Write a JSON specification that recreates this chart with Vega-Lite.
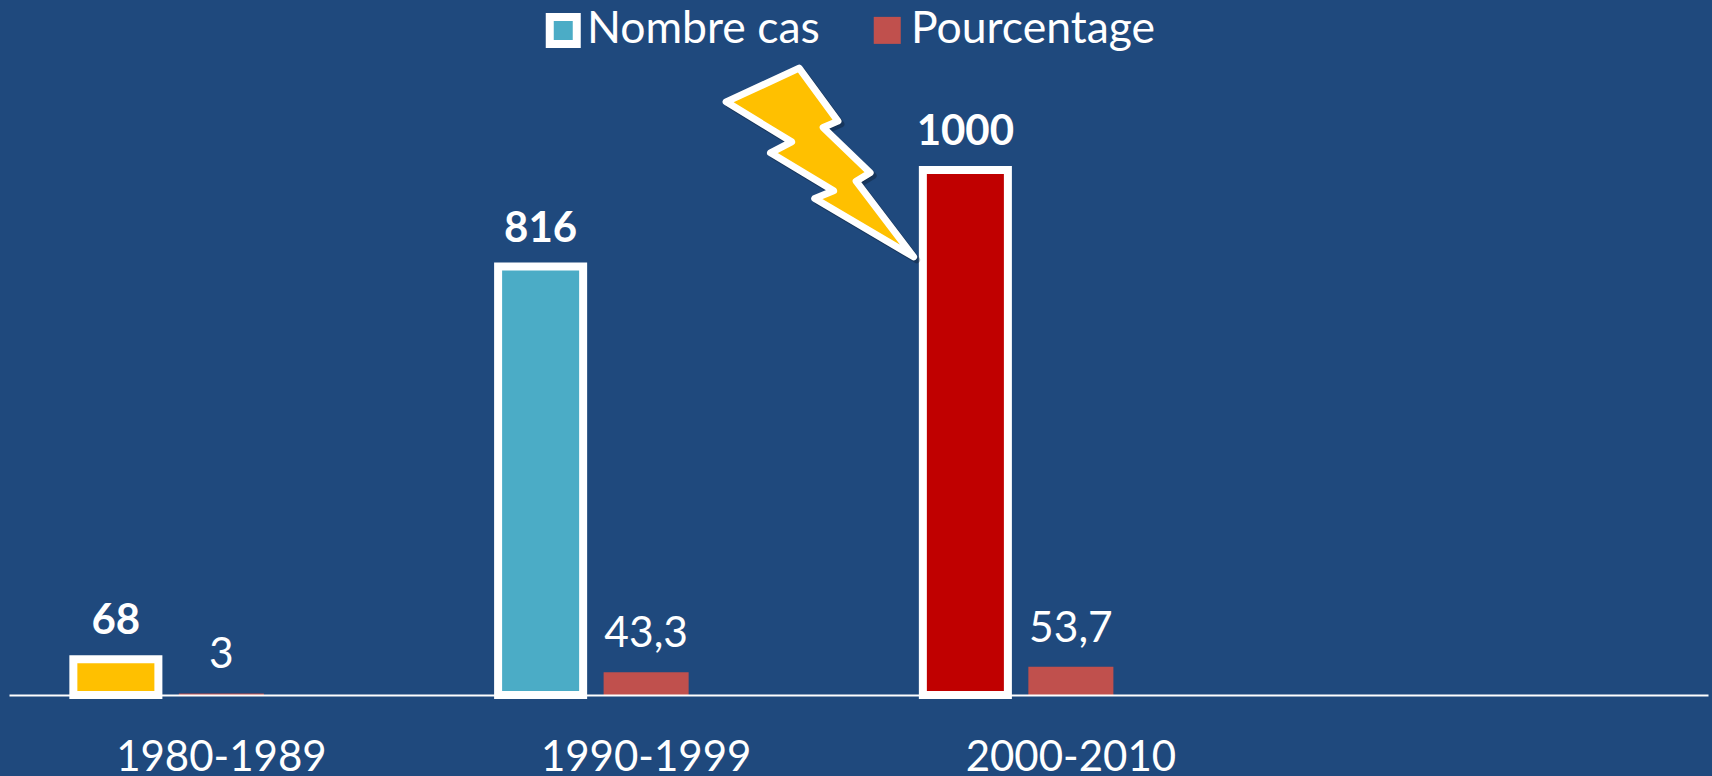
{
"$schema":"https://vega.github.io/schema/vega-lite/v6.json",
"width":1699,"height":695,
"autosize":{"type":"none"},
"padding":{"left":9,"right":4,"top":0,"bottom":81},
"background":"#1f497d",
"config":{"view":{"stroke":null},"font":"Lato"},
"layer":[
{
"data":{"values":[
{"period":"1980-1989","series":"Nombre cas","value":68,"label":"68"},
{"period":"1990-1999","series":"Nombre cas","value":816,"label":"816"},
{"period":"2000-2010","series":"Nombre cas","value":1000,"label":"1000"},
{"period":"1980-1989","series":"Pourcentage","value":3,"label":"3"},
{"period":"1990-1999","series":"Pourcentage","value":43.3,"label":"43,3"},
{"period":"2000-2010","series":"Pourcentage","value":53.7,"label":"53,7"}
]},
"encoding":{
"x":{"field":"period","type":"nominal","scale":{"type":"band","domain":["1980-1989","1990-1999","2000-2010"," "],"paddingInner":0,"paddingOuter":0},
"axis":{"title":null,"ticks":false,"domainColor":"white","domainWidth":2,"labelAngle":0,"labelColor":"white","labelFont":"Lato","labelFontSize":42,"labelBaseline":"alphabetic","labelPadding":75,"labelOverlap":false,"labelLimit":0,"zindex":1}},
"xOffset":{"field":"series","type":"nominal","scale":{"domain":["Nombre cas","Pourcentage","_"],"paddingInner":0.194,"paddingOuter":0.61}},
"y":{"field":"value","type":"quantitative","stack":null,"scale":{"domain":[0,1323.8],"nice":false,"zero":true},"axis":null}
},
"layer":[
{"mark":{"type":"bar","strokeWidth":8,"strokeJoin":"miter","clip":false},
"encoding":{
"color":{"condition":[{"test":"datum.series==='Nombre cas'&&datum.period==='1980-1989'","value":"#ffc000"},{"test":"datum.series==='Nombre cas'&&datum.period==='2000-2010'","value":"#c00000"}],
"field":"series","type":"nominal","scale":{"domain":["Nombre cas","Pourcentage"],"range":["#4bacc6","#c0504d"]},
"legend":{"title":null,"orient":"none","legendX":532,"legendY":8,"direction":"horizontal","symbolType":"square","symbolSize":729,"symbolOpacity":1,"symbolStrokeWidth":8,"labelFont":"Lato","labelFontSize":44.5,"labelColor":"white","labelLimit":0,"labelOffset":1.5,"columnPadding":37,"padding":0}},
"stroke":{"field":"series","type":"nominal","scale":{"domain":["Nombre cas","Pourcentage"],"range":["white","transparent"]},
"legend":{"title":null,"orient":"none","legendX":532,"legendY":8,"direction":"horizontal","symbolType":"square","symbolSize":729,"symbolOpacity":1,"symbolStrokeWidth":8,"labelFont":"Lato","labelFontSize":44.5,"labelColor":"white","labelLimit":0,"labelOffset":1.5,"columnPadding":37,"padding":0}}
}},
{"transform":[{"filter":"datum.series==='Nombre cas'"}],
"mark":{"type":"text","color":"white","font":"Lato","fontSize":42,"fontWeight":"bold","baseline":"alphabetic","align":"center","dy":-25},
"encoding":{"text":{"field":"label","type":"nominal"}}},
{"transform":[{"filter":"datum.series==='Pourcentage'"}],
"mark":{"type":"text","color":"white","font":"Lato","fontSize":42.5,"baseline":"alphabetic","align":"center","dy":-25},
"encoding":{"text":{"field":"label","type":"nominal"}}}
]
},
{"data":{"values":[{"annotation":"éclair"}]},
"mark":{"type":"point","shape":"M-0.21,-0.945L0.178,-0.415L0.03,-0.352L0.5,0.102L0.36,0.185L0.935,0.942L-0.054,0.358L0.135,0.282L-0.496,-0.098L-0.285,-0.208L-0.94,-0.608Z","size":40000,"filled":true,"fill":"#000000","fillOpacity":0.25,"stroke":"#000000","strokeOpacity":0.25,"strokeWidth":7,"strokeJoin":"round","xOffset":177,"yOffset":3},
"encoding":{"x":{"datum":"1990-1999","type":"nominal"},"y":{"datum":1014,"type":"quantitative"}}},
{"data":{"values":[{"annotation":"éclair"}]},
"mark":{"type":"point","shape":"M-0.21,-0.945L0.178,-0.415L0.03,-0.352L0.5,0.102L0.36,0.185L0.935,0.942L-0.054,0.358L0.135,0.282L-0.496,-0.098L-0.285,-0.208L-0.94,-0.608Z","size":40000,"filled":true,"fill":"#ffc000","opacity":1,"stroke":"white","strokeWidth":7,"strokeJoin":"round","xOffset":174},
"encoding":{"x":{"datum":"1990-1999","type":"nominal"},"y":{"datum":1014,"type":"quantitative"}}}
]
}
